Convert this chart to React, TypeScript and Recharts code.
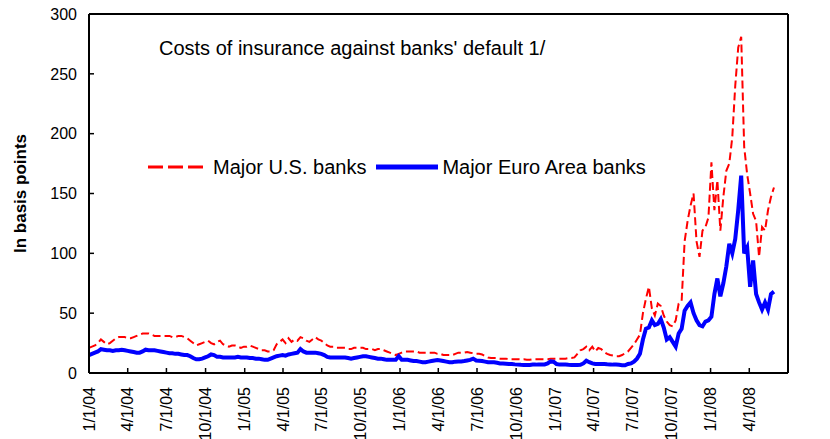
import { LineChart, Line, XAxis, YAxis, ReferenceLine, Legend } from 'recharts';

document.body.style.margin = '0';

const FONT = "Arial, 'Liberation Sans', sans-serif";
const DAY = 86400000;
const START = Date.UTC(2004, 0, 1);

// quarterly tick labels
const dateTicks = [
  '1/1/04', '4/1/04', '7/1/04', '10/1/04',
  '1/1/05', '4/1/05', '7/1/05', '10/1/05',
  '1/1/06', '4/1/06', '7/1/06', '10/1/06',
  '1/1/07', '4/1/07', '7/1/07', '10/1/07',
  '1/1/08', '4/1/08',
];
const axisEnd = '7/1/08';
const yTicks = [0, 50, 100, 150, 200, 250, 300];

// weekly readings from 1/1/04, in basis points
const usBanks = [
  21, 22, 23, 25, 28, 26, 24, 25, 27, 29, 30, 30, 30,
  29, 29, 30, 31, 32, 33, 33, 33, 32, 31, 31, 31, 31,
  31, 31, 30, 30, 31, 31, 30, 29, 27, 25, 23, 24, 25,
  26, 27, 25, 24, 26, 27, 24, 23, 22, 23, 23, 22, 21,
  22, 22, 23, 22, 21, 20, 19, 19, 18, 18, 19, 24, 26,
  28, 25, 29, 26, 28, 27, 30, 29, 27, 26, 28, 30, 28,
  27, 25, 23, 22, 22, 21, 21, 21, 21, 20, 20, 21, 21,
  21, 21, 20, 20, 20, 19, 20, 20, 19, 18, 17, 16, 15,
  16, 17, 18, 18, 18, 18, 18, 17, 17, 17, 17, 17, 17,
  16, 16, 15, 15, 15, 15, 16, 17, 17, 17, 17.5, 17, 16.5,
  16, 16, 15.5, 14, 13, 12.5, 12.5, 12.5, 12, 12, 12, 11.5, 11.5,
  11.5, 11.5, 11.4, 11.5, 11, 11, 11.4, 11.4, 11.5, 11.5, 11.5, 11.5, 12,
  12, 12, 12, 12, 12, 12.5, 12.5, 13, 16, 19, 20, 22, 19,
  22, 18, 21, 20, 17.5, 16, 15, 14.5, 14, 14, 15, 16.5, 18,
  21, 24, 28, 32, 50, 62, 72, 54, 48, 58, 56, 48, 43,
  40, 39, 44, 58, 60, 110, 127, 140, 150, 110, 97, 119, 122,
  130, 176, 136, 161, 119, 147, 169, 175, 197, 240, 272, 281, 189,
  166, 150, 133, 127, 97, 122, 119, 136, 147, 155,
];
const euroBanks = [
  15, 16, 17, 18, 20, 19.5, 19, 19, 18.5, 19, 19, 19.5, 19,
  18.5, 18, 17.5, 17, 17, 18, 19.5, 19, 19, 19, 18.5, 18, 17.5,
  17, 16.5, 16.5, 16, 16, 15.5, 15, 15, 14, 12.5, 11.5, 11.5, 12,
  13, 14, 15.5, 15, 13.5, 13.5, 13, 13, 13, 13, 13, 13.5, 13,
  13, 13, 12.5, 12.5, 12, 12, 11.5, 11, 11, 12, 13, 14, 14.5,
  15, 14.5, 15.5, 16, 16.5, 17, 20, 18, 17, 17, 17, 17, 16.5,
  16, 15, 13.5, 13, 13, 13, 13, 13, 13, 12.5, 12, 12.5, 13,
  13.5, 14, 14, 13.5, 13, 12.5, 12, 12, 11.5, 11, 11, 11, 11,
  14, 11, 11, 11, 10.5, 10, 10, 9.5, 9, 9, 9.5, 10, 10.5,
  10.8, 10.5, 10, 9.5, 9, 9, 9.5, 9.7, 9.7, 10, 10.5, 11, 12,
  10.5, 10.3, 10, 9.5, 9, 9, 8.9, 8.5, 8, 8, 7.8, 7.5, 7.5,
  7.2, 7, 6.8, 6.7, 6.7, 6.7, 7, 7, 7.2, 7.2, 7.2, 8, 9.7,
  9.5, 7.5, 7, 7, 7, 6.8, 6.7, 6.7, 6.7, 6.8, 8, 10.3, 9,
  8, 7.5, 7.5, 7.5, 7.5, 7.3, 7.2, 7, 7, 6.8, 6.5, 6.4, 7.5,
  8, 9.5, 12, 16, 28, 37, 38, 44, 40, 41, 45, 38, 28,
  30, 26, 22, 33, 37, 52, 56, 59, 50, 44, 40, 39, 43,
  44, 47, 66, 79, 64, 75, 89, 108, 100, 112, 136, 165, 100,
  105, 72, 94, 66, 59, 53, 59, 53, 66, 68,
];

const dayOf = (label: string) => {
  const [m, d, y] = label.split('/').map(Number);
  return (Date.UTC(2000 + y, m - 1, d) - START) / DAY;
};
const tickDays = dateTicks.map(dayOf);
const labelByDay: Record<number, string> = {};
dateTicks.forEach((t, i) => (labelByDay[tickDays[i]] = t));

const data = usBanks.map((v, i) => ({ day: i * 7, us: v, euro: euroBanks[i] }));

function DateTick({ x, y, payload }: any) {
  return (
    <text
      x={x}
      y={y}
      transform={`rotate(-90, ${x}, ${y})`}
      textAnchor="end"
      dominantBaseline="central"
      fontSize={16}
      fontFamily={FONT}
      fill="#000"
    >
      {labelByDay[payload.value]}
    </text>
  );
}

function LegendBox() {
  return (
    <div style={{ display: 'flex', alignItems: 'center', fontFamily: FONT, fontSize: 20, color: '#000', whiteSpace: 'nowrap' }}>
      <svg width={55} height={24}>
        <line x1={0} y1={12} x2={55} y2={12} stroke="#ff0000" strokeWidth={3} strokeDasharray="15 5" />
      </svg>
      <span style={{ marginLeft: 10 }}>Major U.S. banks</span>
      <svg width={62} height={24} style={{ marginLeft: 10 }}>
        <line x1={0} y1={12} x2={62} y2={12} stroke="#0000ff" strokeWidth={5} />
      </svg>
      <span style={{ marginLeft: 4 }}>Major Euro Area banks</span>
    </div>
  );
}

export default function App() {
  return (
    <div style={{ position: 'relative', width: 830, height: 439, background: '#fff' }}>
      <div style={{ position: 'absolute', left: 159, top: 37, fontFamily: FONT, fontSize: 20, color: '#000', whiteSpace: 'nowrap', zIndex: 2 }}>
        Costs of insurance against banks' default 1/
      </div>
      <LineChart width={830} height={439} data={data} margin={{ top: 14, right: 2, bottom: 6, left: 49 }}>
        <XAxis
          dataKey="day"
          type="number"
          domain={[0, dayOf(axisEnd)]}
          ticks={tickDays}
          interval={0}
          height={60}
          tick={<DateTick />}
          tickSize={-5}
          tickMargin={19}
          axisLine={{ stroke: '#000', strokeWidth: 2 }}
          tickLine={{ stroke: '#000', strokeWidth: 1.5 }}
        />
        <YAxis
          yAxisId="left"
          domain={[0, 300]}
          ticks={yTicks}
          width={40}
          tickSize={-5}
          tickMargin={17}
          axisLine={{ stroke: '#000', strokeWidth: 2 }}
          tickLine={{ stroke: '#000', strokeWidth: 1.5 }}
          tick={{ fill: '#000', fontSize: 16, fontFamily: FONT }}
          label={{
            content: ({ viewBox }: any) => (
              <text
                x={20}
                y={viewBox.y + viewBox.height / 2}
                transform={`rotate(-90, 20, ${viewBox.y + viewBox.height / 2})`}
                textAnchor="middle"
                dominantBaseline="central"
                fontSize={17}
                fontWeight="bold"
                fontFamily={FONT}
                fill="#000"
              >
                In basis points
              </text>
            ),
          }}
        />
        <YAxis
          yAxisId="right"
          orientation="right"
          domain={[0, 300]}
          ticks={yTicks}
          width={40}
          tickSize={-5}
          tickMargin={16}
          axisLine={{ stroke: '#000', strokeWidth: 2 }}
          tickLine={{ stroke: '#000', strokeWidth: 1.5 }}
          tick={{ fill: '#000', fontSize: 16, fontFamily: FONT, textAnchor: 'start' }}
        />
        <ReferenceLine yAxisId="left" y={300} stroke="#000" strokeWidth={2} />
        <Legend
          layout="horizontal"
          verticalAlign="middle"
          content={<LegendBox />}
          wrapperStyle={{ position: 'absolute', left: 148, top: 155, width: 560 }}
        />
        <Line
          yAxisId="left"
          type="linear"
          dataKey="us"
          stroke="#ff0000"
          strokeWidth={2}
          strokeDasharray="8 4"
          dot={false}
          isAnimationActive={false}
        />
        <Line
          yAxisId="left"
          type="linear"
          dataKey="euro"
          stroke="#0000ff"
          strokeWidth={4}
          dot={false}
          isAnimationActive={false}
        />
      </LineChart>
    </div>
  );
}
